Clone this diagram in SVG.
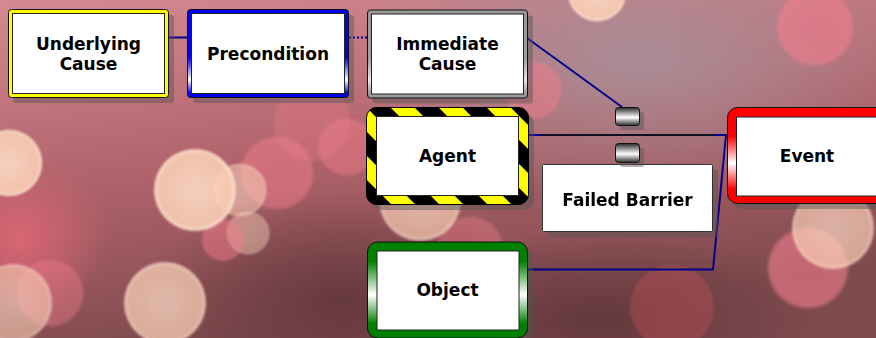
<svg xmlns="http://www.w3.org/2000/svg" width="876" height="338" viewBox="0 0 876 338">
<defs>
<linearGradient id="bg" x1="0" y1="0" x2="0.3" y2="1">
<stop offset="0" stop-color="#d48a92"/>
<stop offset="0.5" stop-color="#b2646c"/>
<stop offset="1" stop-color="#7e4a4e"/>
</linearGradient>
<radialGradient id="mauve" cx="0.5" cy="0.5" r="0.5">
<stop offset="0" stop-color="#a8909a" stop-opacity="0.9"/>
<stop offset="1" stop-color="#a8909a" stop-opacity="0"/>
</radialGradient>
<radialGradient id="dark" cx="0.5" cy="0.5" r="0.5">
<stop offset="0" stop-color="#5e3438" stop-opacity="0.8"/>
<stop offset="1" stop-color="#5e3438" stop-opacity="0"/>
</radialGradient>
<radialGradient id="pinkglow" cx="0.5" cy="0.5" r="0.5">
<stop offset="0" stop-color="#e86878" stop-opacity="0.8"/>
<stop offset="1" stop-color="#e86878" stop-opacity="0"/>
</radialGradient>
<radialGradient id="peach" cx="0.5" cy="0.5" r="0.5">
<stop offset="0" stop-color="#fcdcc8"/>
<stop offset="0.85" stop-color="#f9ccb2"/>
<stop offset="0.95" stop-color="#ffe6d2"/>
<stop offset="1" stop-color="#f8b0a0" stop-opacity="0"/>
</radialGradient>
<radialGradient id="pink" cx="0.5" cy="0.5" r="0.5">
<stop offset="0" stop-color="#f07a8a"/>
<stop offset="0.9" stop-color="#f2808e"/>
<stop offset="1" stop-color="#f2808e" stop-opacity="0"/>
</radialGradient>
<filter id="soft" x="-20%" y="-20%" width="140%" height="140%"><feGaussianBlur stdDeviation="1.2"/></filter>
<linearGradient id="gBlue" x1="0" y1="0" x2="0" y2="1">
<stop offset="0" stop-color="#0000ee"/><stop offset="0.55" stop-color="#0000ee"/><stop offset="0.8" stop-color="#ffffff"/><stop offset="0.95" stop-color="#0000ee"/>
</linearGradient>
<linearGradient id="gGray" x1="0" y1="0" x2="0" y2="1">
<stop offset="0" stop-color="#999999"/><stop offset="0.55" stop-color="#a0a0a0"/><stop offset="0.8" stop-color="#e8e8e8"/><stop offset="0.95" stop-color="#999999"/>
</linearGradient>
<linearGradient id="gGreen" x1="0" y1="0" x2="0" y2="1">
<stop offset="0" stop-color="#008000"/><stop offset="0.2" stop-color="#008000"/><stop offset="0.55" stop-color="#ffffff"/><stop offset="0.85" stop-color="#008000"/>
</linearGradient>
<linearGradient id="gRed" x1="0" y1="0" x2="0" y2="1">
<stop offset="0" stop-color="#ff0000"/><stop offset="0.3" stop-color="#ff0000"/><stop offset="0.58" stop-color="#ffffff"/><stop offset="0.85" stop-color="#ff0000"/>
</linearGradient>
<linearGradient id="gBar" x1="0" y1="0" x2="0" y2="1">
<stop offset="0" stop-color="#2a2a2a"/><stop offset="0.55" stop-color="#ffffff"/><stop offset="1" stop-color="#2a2a2a"/>
</linearGradient>
<pattern id="hazard" patternUnits="userSpaceOnUse" width="34" height="34" patternTransform="translate(390,107) rotate(-45)">
<rect width="34" height="34" fill="#000"/>
<rect width="17" height="34" fill="#ffff00"/>
</pattern>
<style>
.t{font-family:"DejaVu Sans",Verdana,sans-serif;font-weight:bold;font-size:17px;fill:#000;text-anchor:middle}
.sh{fill:#555;opacity:0.45}
.ob{stroke:#111;stroke-width:1}
.in{fill:#fff;stroke:#222;stroke-width:1}
.c{fill:none;stroke:#00008c;stroke-width:2}
</style>
</defs>
<g id="background">
<rect width="876" height="338" fill="url(#bg)"/>
<ellipse cx="640" cy="60" rx="300" ry="140" fill="url(#mauve)"/>
<ellipse cx="340" cy="300" rx="200" ry="110" fill="url(#dark)"/>
<ellipse cx="600" cy="320" rx="220" ry="90" fill="url(#dark)"/>
<ellipse cx="20" cy="240" rx="90" ry="80" fill="url(#pinkglow)"/>
<g filter="url(#soft)">
<circle cx="312" cy="123" r="40" fill="url(#pink)" opacity="0.3"/>
<circle cx="277" cy="173" r="38" fill="url(#pink)" opacity="0.5"/>
<circle cx="347" cy="147" r="30" fill="url(#pink)" opacity="0.45"/>
<circle cx="50" cy="293" r="35" fill="url(#pink)" opacity="0.4"/>
<circle cx="533" cy="90" r="30" fill="url(#pink)" opacity="0.5"/>
<circle cx="815" cy="27" r="40" fill="url(#pink)" opacity="0.6"/>
<circle cx="808" cy="268" r="42" fill="url(#pink)" opacity="0.6"/>
<circle cx="672" cy="307" r="42" fill="#b85058" opacity="0.45"/>
<circle cx="470" cy="250" r="35" fill="url(#pink)" opacity="0.4"/>
<circle cx="9" cy="163" r="34" fill="url(#peach)" opacity="0.9"/>
<circle cx="240" cy="190" r="27" fill="url(#peach)" opacity="0.55"/>
<circle cx="248" cy="233" r="22" fill="url(#peach)" opacity="0.45"/>
<circle cx="223" cy="240" r="22" fill="url(#pink)" opacity="0.5"/>
<circle cx="195" cy="190" r="42" fill="url(#peach)" opacity="0.9"/>
<circle cx="165" cy="303" r="42" fill="url(#peach)" opacity="0.75"/>
<circle cx="13" cy="303" r="40" fill="url(#peach)" opacity="0.6"/>
<circle cx="833" cy="228" r="42" fill="url(#peach)" opacity="0.7"/>
<circle cx="420" cy="200" r="42" fill="url(#peach)" opacity="0.7"/>
<circle cx="597" cy="-8" r="30" fill="url(#peach)" opacity="0.9"/>
</g>
</g>
<g id="connectors">
<line class="c" x1="168" y1="37.5" x2="188" y2="37.5"/>
<line class="c" x1="349" y1="37.5" x2="367" y2="37.5" stroke-dasharray="2,2"/>
<line class="c" x1="527" y1="38" x2="622" y2="107"/>
<line class="c" x1="528" y1="135" x2="727" y2="135"/>
<line x1="541" y1="135" x2="713" y2="135" stroke="#101020" stroke-width="2"/>
<polyline class="c" points="528,269.5 713,269.5 726,135"/>
</g>
<g id="underlying-cause">
<rect class="sh" x="13" y="15" width="161" height="88" rx="3"/>
<rect class="ob" x="8.5" y="9.5" width="160" height="88" rx="3" fill="#ffff00"/>
<rect class="in" x="12.5" y="13.5" width="152" height="80"/>
<text class="t" x="88.5" y="50">Underlying</text>
<text class="t" x="88.5" y="70">Cause</text>
</g>
<g id="precondition">
<rect class="sh" x="193" y="15" width="161" height="88" rx="3"/>
<rect class="ob" x="187.5" y="9.5" width="161" height="88" rx="3" fill="url(#gBlue)"/>
<rect class="in" x="191.5" y="13.5" width="153" height="80"/>
<text class="t" x="268" y="60">Precondition</text>
</g>
<g id="immediate-cause">
<rect class="sh" x="373" y="15.5" width="160" height="88" rx="3"/>
<rect class="ob" x="367.5" y="10" width="160" height="88" rx="3" fill="url(#gGray)"/>
<rect class="in" x="371.5" y="14" width="152" height="80"/>
<text class="t" x="447.5" y="50">Immediate</text>
<text class="t" x="447.5" y="70">Cause</text>
</g>
<g id="agent">
<rect class="sh" x="372" y="113" width="162" height="97" rx="10"/>
<rect x="366.5" y="107.5" width="162" height="97" rx="10" fill="url(#hazard)" stroke="#000" stroke-width="1"/>
<rect class="in" x="376.5" y="116.5" width="142" height="79"/>
<text class="t" x="447.5" y="162">Agent</text>
</g>
<g id="object">
<rect class="sh" x="373" y="248" width="160" height="96" rx="10"/>
<rect class="ob" x="367.5" y="242" width="160" height="96" rx="10" fill="url(#gGreen)"/>
<rect class="in" x="377" y="251" width="142" height="79"/>
<text class="t" x="447.5" y="296">Object</text>
</g>
<g id="failed-barrier">
<rect class="sh" x="548" y="170" width="170" height="67"/>
<rect x="542.5" y="164.5" width="170" height="67" rx="1" fill="#fff" stroke="#333" stroke-width="1"/>
<text class="t" x="627.5" y="206">Failed Barrier</text>
</g>
<g id="barrier-1">
<rect class="sh" x="620" y="112" width="24" height="18" rx="3"/>
<rect x="615.5" y="107.5" width="24" height="18" rx="3" fill="url(#gBar)" stroke="#111" stroke-width="1"/>
</g>
<g id="barrier-2">
<rect class="sh" x="620" y="148" width="24" height="19" rx="3"/>
<rect x="615.5" y="143.5" width="24" height="19" rx="3" fill="url(#gBar)" stroke="#111" stroke-width="1"/>
</g>
<g id="event">
<rect class="sh" x="733" y="113" width="165" height="96" rx="10"/>
<rect class="ob" x="727.5" y="107.5" width="165" height="96" rx="10" fill="url(#gRed)"/>
<rect class="in" x="736.5" y="117" width="147" height="79"/>
<text class="t" x="807" y="162">Event</text>
</g>
</svg>
